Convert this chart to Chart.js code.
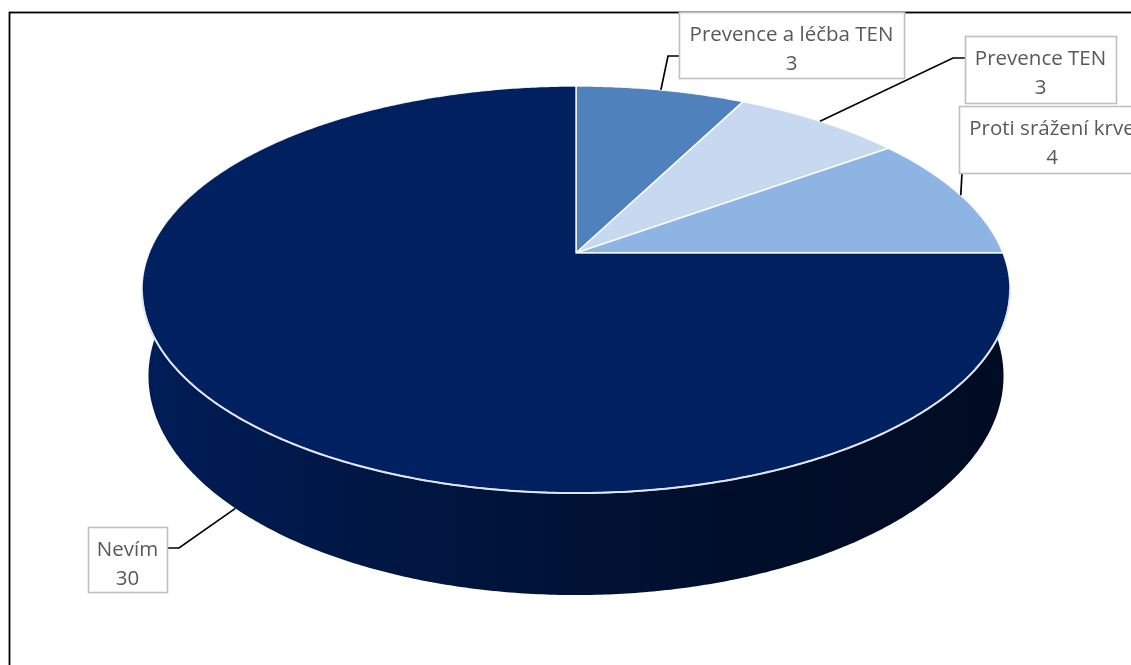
<!DOCTYPE html>
<html>
<head>
<meta charset="utf-8">
<script src="https://cdn.jsdelivr.net/npm/chart.js@4.4.0/dist/chart.umd.min.js"></script>
<style>
  html, body { margin: 0; padding: 0; background: #fff; }
  #wrap { width: 1131px; height: 665px; }
</style>
</head>
<body>
<div id="wrap"><canvas id="pieChart" width="1131" height="665"></canvas></div>
<script>
// Answers to the survey question
const categories = ['Prevence a léčba TEN', 'Prevence TEN', 'Proti srážení krve', 'Nevím'];
const answerCounts = [3, 3, 4, 30];
const sliceColors = ['#4f81bd', '#c6d9f1', '#8db4e2', '#002060'];

// Tilted pie: centre, radii, perspective factor, wall thickness and taper
const PIE = { cx: 576, cy: 253, rx: 427, ry: 197, persp: 0.1794, depth: 83.7, taper: 0.015 };

// Callout boxes and their elbow points (leader runs elbow -> slice)
const callouts = [
    { x: 679, y: 12, w: 225, h: 66, elbow: [[679, 56], [668, 56]] },
    { x: 965, y: 36, w: 151, h: 67, elbow: [[965, 58], [953, 58]] },
    { x: 959, y: 106, w: 186, h: 67, elbow: [[962, 173]] },
    { x: 88, y: 527, w: 79, h: 65, elbow: [[167, 548], [179, 548]] }
];

// theta: 0 = far edge, clockwise; r: 0..1; z: 0 = top face, 1 = bottom
function project(theta, r, z) {
    const X = r * Math.sin(theta);
    const Y = r * Math.cos(theta);
    const w = 1 + PIE.persp * Y;
    return {
        x: PIE.cx + PIE.rx * (1 - PIE.taper * z) * X / w,
        y: PIE.cy + (-PIE.ry * Y + PIE.depth * z) / w
    };
}

function shade(hex, f) {
    const n = parseInt(hex.slice(1), 16);
    const r = Math.round(((n >> 16) & 255) * f);
    const g = Math.round(((n >> 8) & 255) * f);
    const b = Math.round((n & 255) * f);
    return `rgb(${r},${g},${b})`;
}

function toTheta(angle) {
    return angle + Math.PI / 2;
}

// Wall faces the viewer where cos(theta) < -persp
const frontStart = Math.acos(-PIE.persp);
const frontEnd = 2 * Math.PI - frontStart;

const pie3d = {
    id: 'pie3d',
    beforeDraw(chart) {
        const ctx = chart.ctx;
        ctx.save();
        ctx.fillStyle = '#fff';
        ctx.fillRect(0, 0, chart.width, chart.height);
        ctx.strokeStyle = '#000';
        ctx.lineWidth = 1.8;
        ctx.strokeRect(9.5, 12.5, 1400, 900);
        ctx.restore();
    },
    beforeDatasetsDraw(chart) {
        const ctx = chart.ctx;
        const arcs = chart.getDatasetMeta(0).data;
        const colors = chart.data.datasets[0].backgroundColor;
        const step = Math.PI / 360;

        ctx.save();
        // walls first; a margin past the silhouette hides behind the top face
        arcs.forEach((arc, i) => {
            const a0 = Math.max(toTheta(arc.startAngle), frontStart - 0.5);
            const a1 = Math.min(toTheta(arc.endAngle), frontEnd + 0.5);
            if (a1 <= a0) return;
            const grad = ctx.createLinearGradient(PIE.cx - 434, 0, PIE.cx + 434, 0);
            grad.addColorStop(0, shade(colors[i], 0.92));
            grad.addColorStop(0.25, shade(colors[i], 0.72));
            grad.addColorStop(0.5, shade(colors[i], 0.55));
            grad.addColorStop(0.75, shade(colors[i], 0.42));
            grad.addColorStop(1, shade(colors[i], 0.36));
            ctx.beginPath();
            for (let t = a0; t <= a1; t += step) {
                const p = project(t, 1, 0);
                ctx.lineTo(p.x, p.y);
            }
            let p = project(a1, 1, 0);
            ctx.lineTo(p.x, p.y);
            p = project(a1, 1, 1);
            ctx.lineTo(p.x, p.y);
            for (let t = a1; t >= a0; t -= step) {
                const q = project(t, 1, 1);
                ctx.lineTo(q.x, q.y);
            }
            ctx.closePath();
            ctx.fillStyle = grad;
            ctx.fill();
        });

        // top faces
        arcs.forEach((arc, i) => {
            const a0 = toTheta(arc.startAngle);
            const a1 = toTheta(arc.endAngle);
            const c = project(0, 0, 0);
            ctx.beginPath();
            ctx.moveTo(c.x, c.y);
            for (let t = a0; t < a1; t += step) {
                const p = project(t, 1, 0);
                ctx.lineTo(p.x, p.y);
            }
            const e = project(a1, 1, 0);
            ctx.lineTo(e.x, e.y);
            ctx.closePath();
            ctx.fillStyle = colors[i];
            ctx.fill();
            ctx.strokeStyle = 'rgba(255,255,255,0.9)';
            ctx.lineWidth = 1.5;
            ctx.lineJoin = 'round';
            ctx.stroke();
        });

        // light rim along the front edge of the top face
        ctx.beginPath();
        for (let t = frontStart; t <= frontEnd; t += step) {
            const p = project(t, 1, 0);
            ctx.lineTo(p.x, p.y);
        }
        ctx.strokeStyle = 'rgba(225,230,240,0.95)';
        ctx.lineWidth = 2;
        ctx.stroke();
        ctx.restore();
        return false;
    },
    afterDraw(chart) {
        const ctx = chart.ctx;
        const arcs = chart.getDatasetMeta(0).data;
        const values = chart.data.datasets[0].data;
        ctx.save();
        arcs.forEach((arc, i) => {
            const box = callouts[i];
            const mid = (toTheta(arc.startAngle) + toTheta(arc.endAngle)) / 2;
            const onWall = Math.cos(mid) < -PIE.persp;
            const anchor = project(mid, 1, onWall ? 1 : 0);

            // leader line
            ctx.beginPath();
            box.elbow.forEach((pt, k) => k === 0 ? ctx.moveTo(pt[0], pt[1]) : ctx.lineTo(pt[0], pt[1]));
            ctx.lineTo(anchor.x, anchor.y);
            ctx.strokeStyle = '#000';
            ctx.lineWidth = 1.7;
            ctx.stroke();

            // box
            ctx.fillStyle = '#fff';
            ctx.fillRect(box.x, box.y, box.w, box.h);
            ctx.strokeStyle = '#bfbfbf';
            ctx.lineWidth = 1.6;
            ctx.strokeRect(box.x + 0.5, box.y + 0.5, box.w, box.h);

            // text
            ctx.fillStyle = '#595959';
            ctx.font = '20.5px "Open Sans"';
            ctx.textAlign = 'center';
            ctx.textBaseline = 'alphabetic';
            const cx = box.x + box.w / 2;
            ctx.fillText(chart.data.labels[i], cx, box.y + 29);
            ctx.fillText(String(values[i]), cx, box.y + 58);
        });
        ctx.restore();
    }
};

new Chart(document.getElementById('pieChart'), {
    type: 'pie',
    data: {
        labels: categories,
        datasets: [{
            data: answerCounts,
            backgroundColor: sliceColors,
            borderWidth: 0
        }]
    },
    options: {
        responsive: false,
        animation: false,
        events: [],
        plugins: {
            legend: { display: false },
            tooltip: { enabled: false }
        }
    },
    plugins: [pie3d]
});
</script>
</body>
</html>
